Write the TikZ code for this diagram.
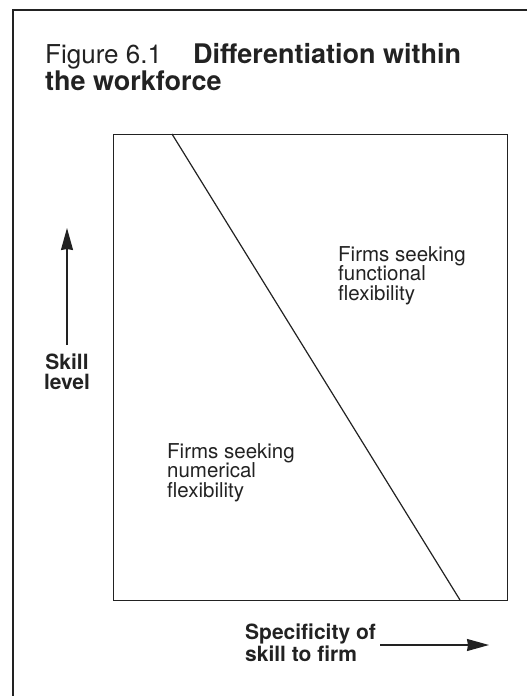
\documentclass[tikz,border=0pt]{standalone}
\usepackage{fontspec}
\setmainfont{TeX Gyre Heros}
\usetikzlibrary{arrows.meta}
\definecolor{ink}{HTML}{222222}
\tikzset{
  frame/.style={draw=ink, line width=1.8pt},
  box/.style={draw=ink, line width=1.4pt},
  diag/.style={draw=ink, line width=1.2pt},
  axisarrow/.style={draw=ink, line width=1.4pt, -{Stealth[length=22pt,width=12pt,inset=1pt]}},
  lbl/.style={inner sep=0pt, text=ink, font=\fontsize{20.5}{19.5}\selectfont, align=left},
  blbl/.style={inner sep=0pt, text=ink, font=\fontsize{21}{19.5}\selectfont\bfseries},
  ttl/.style={inner sep=0pt, text=ink, anchor=base west},
}
\begin{document}
\begin{tikzpicture}[x=1pt,y=-1pt]
\useasboundingbox (0,0) rectangle (531,696);
% outer frame (top and left)
\coordinate (ftr) at (527,10);
\coordinate (ftl) at (13,10);
\coordinate (fbl) at (13,696);
\draw[frame] (ftr) -- (ftl) -- (fbl);
% title
\node[ttl, font=\fontsize{26}{27}\selectfont] (fig) at (45,63) {Figure 6.1};
\node[ttl, font=\fontsize{27}{27}\selectfont\bfseries] (t1) at (193,63) {Differentiation within};
\node[ttl, font=\fontsize{27}{27}\selectfont\bfseries] (t2) at (45,90) {the workforce};
% inner box
\node[box, minimum width=394pt, minimum height=466pt, inner sep=0pt, anchor=north west] (bx) at (113,134) {};
\coordinate (dtop) at (172,134);
\coordinate (dbot) at (460,600);
\draw[diag] (dtop) -- (dbot);
% region labels (base anchor = baseline of last line)
\node[lbl, anchor=base west] (func) at (338,300) {Firms seeking\\functional\\flexibility};
\node[lbl, anchor=base west] (num) at (167,497) {Firms seeking\\numerical\\flexibility};
% skill axis
\coordinate (sa) at (67,345);
\coordinate (sb) at (67,228);
\draw[axisarrow] (sa) -- (sb);
\node[blbl, align=center, anchor=base] (skill) at (67,389) {Skill\\level};
% specificity axis
\node[blbl, align=left, anchor=base west] (spec) at (245,661) {Specificity of\\skill to firm};
\coordinate (xa) at (380,645);
\coordinate (xb) at (489,645);
\draw[axisarrow] (xa) -- (xb);
\end{tikzpicture}
\end{document}
